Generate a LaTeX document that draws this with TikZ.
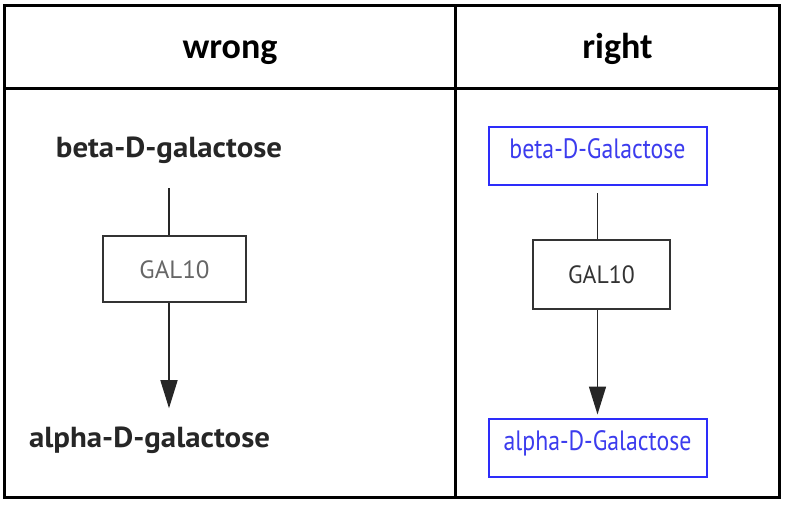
\documentclass[tikz,border=0pt]{standalone}
\usepackage{fontspec}
\setmainfont{Carlito}
\newfontfamily\chemfont{PT Sans}
\usetikzlibrary{arrows.meta}
\definecolor{boxblue}{RGB}{45,45,250}
\definecolor{textblue}{RGB}{60,60,238}

\begin{document}
\begin{tikzpicture}[x=1pt, y=-1pt,
  rule/.style={line width=3pt},
  head/.style={font=\bfseries\fontsize{36}{40}\selectfont, anchor=base, inner sep=0pt},
  metab/.style={font=\chemfont\bfseries\fontsize{31.5}{36}\selectfont, text=black!85, anchor=base, inner sep=0pt},
  metbox/.style={draw=boxblue, line width=2pt, minimum width=218pt, minimum height=58pt, inner sep=0pt,
    text height=0.75em, text depth=0.25em, text=textblue, font=\chemfont\fontsize{28}{32}\selectfont},
  genebox/.style={draw=black!80, line width=2pt, inner sep=0pt, text height=18pt, text depth=0pt,
    font=\chemfont\fontsize{25}{30}\selectfont},
  link/.style={line width=1.6pt, black!85},
  tip/.style={-{Triangle[length=28pt,width=17pt]}}]

\useasboundingbox (0,0) rectangle (788,506);
\fill[white] (0,0) rectangle (788,506);

% table
\draw[rule] (4.5,5.5) rectangle (779.5,497.5);
\draw[rule] (4.5,88) -- (779.5,88);
\draw[rule] (455,5.5) -- (455,497.5);
\node[head] (wrong) at (230,58) {wrong};
\node[head] (right) at (617.5,58) {right};

% wrong
\node[metab] (lb) at (169,157) {\scalebox{0.98}[0.92]{beta-D-galactose}};
\node[genebox, minimum width=143pt, minimum height=66pt, text=black!60] (lg) at (174.5,269) {GAL10};
\node[metab] (la) at (149.5,447) {\scalebox{0.98}[0.92]{alpha-D-galactose}};
\draw[link, shorten <=25pt] (lb.south) -- (lb.south |- lg.north);
\draw[link, tip, shorten >=18pt] (lb.south |- lg.south) -- (lb.south |- la.north);

% right
\node[metbox] (rb) at (597.5,156) {\scalebox{0.85}[1]{beta-D-Galactose}};
\node[genebox, minimum width=137pt, minimum height=69pt, text=black!80] (rg) at (601.5,274.5) {\scalebox{0.95}[1]{GAL10}};
\node[metbox] (ra) at (597.5,447.5) {\scalebox{0.85}[1]{alpha-D-Galactose}};
\draw[link, shorten <=7pt] (rb.south) -- (rb.south |- rg.north);
\draw[link, tip, shorten >=3pt] (rb.south |- rg.south) -- (ra.north);
\end{tikzpicture}
\end{document}
